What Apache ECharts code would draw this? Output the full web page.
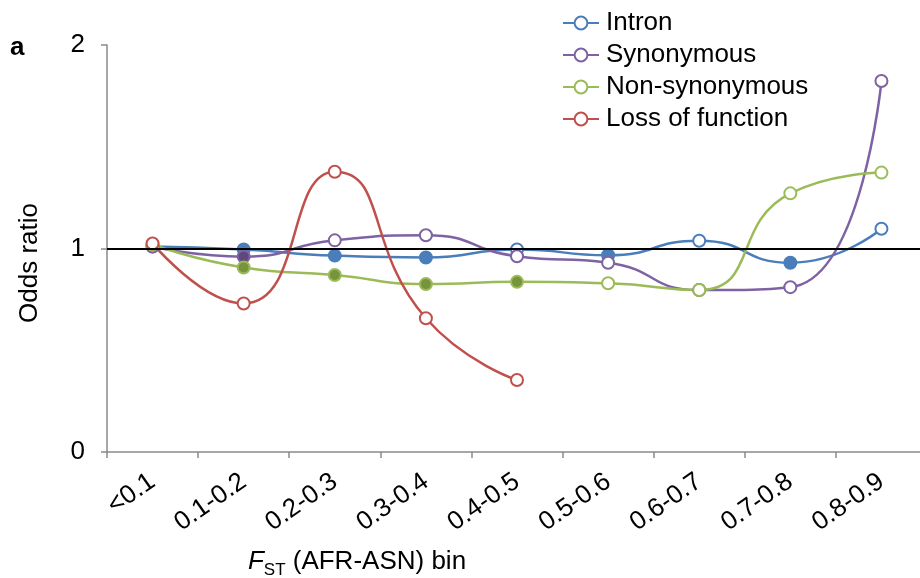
<!DOCTYPE html>
<html><head><meta charset="utf-8">
<script src="https://cdn.jsdelivr.net/npm/echarts@6/dist/echarts.min.js"></script>
<style>html,body{margin:0;padding:0;background:#fff}#c{width:920px;height:578px}</style>
</head><body><div id="c"></div>
<script>
const categories = ['<0.1','0.1-0.2','0.2-0.3','0.3-0.4','0.4-0.5','0.5-0.6','0.6-0.7','0.7-0.8','0.8-0.9'];
const yTicks = [0, 1, 2];
const intron = [1.01, 0.995, 0.965, 0.956, 0.995, 0.967, 1.038, 0.93, 1.097];
const intronFilled = [0,1,1,1,0,1,0,1,0];
const synonymous = [1.01, 0.96, 1.04, 1.065, 0.962, 0.93, 0.796, 0.81, 1.823];
const synonymousFilled = [0,1,0,0,0,0,0,0,0];
const nonsyn = [1.02, 0.907, 0.87, 0.825, 0.836, 0.829, 0.796, 1.271, 1.373];
const nonsynFilled = [1,1,1,1,1,0,0,0,0];
const lof = [1.025, 0.73, 1.377, 0.657, 0.354];
const lofFilled = [0,0,0,0,0];

const FONT = 'Liberation Sans, Arial, sans-serif';
const FS = 26;
function mk(name, vals, filled, line, dark, extra) {
  return Object.assign({
    name, type: 'line', smooth: 0.55,
    symbol: 'circle', symbolSize: 12,
    lineStyle: { color: line, width: 2.5 },
    itemStyle: { color: '#fff', borderColor: line, borderWidth: 2 },
    emphasis: { disabled: true },
    data: vals.map((v, i) => filled[i]
      ? { value: v, itemStyle: { color: dark, borderColor: line, borderWidth: 2 } }
      : v)
  }, extra || {});
}
const chart = echarts.init(document.getElementById('c'), null, { renderer: 'canvas' });
chart.setOption({
  animation: false,
  backgroundColor: '#fff',
  textStyle: { fontFamily: FONT },
  title: { text: 'a', left: 5, top: 30, textStyle: { fontFamily: FONT, fontSize: FS, fontWeight: 'bold', color: '#000' } },
  legend: {
    orient: 'vertical', left: 562, top: 10, padding: 0, itemWidth: 36, itemHeight: 16, itemGap: 6,
    textStyle: { fontFamily: FONT, fontSize: FS, color: '#000', lineHeight: 26, padding: [0,0,0,2] },
    data: ['Intron', 'Synonymous', 'Non-synonymous', 'Loss of function']
  },
  grid: { left: 107, right: -7, top: 45, bottom: 126, containLabel: false, outerBoundsMode: 'none' },
  xAxis: {
    type: 'category', data: categories, boundaryGap: true,
    axisLine: { lineStyle: { color: '#8a8a8a', width: 1.5 } },
    axisTick: { show: true, length: 6, alignWithLabel: false, lineStyle: { color: '#8a8a8a', width: 1.5 } },
    axisLabel: { interval: 0, rotate: 35, margin: 27, color: '#000', fontSize: FS, fontFamily: FONT },
    name: '{i|F}{sub|ST}{n| (AFR-ASN) bin}',
    nameLocation: 'middle', nameGap: 93,
    nameTextStyle: {
      padding: [0, 320, 0, 0],
      rich: {
        i: { fontStyle: 'italic', fontSize: FS, fontFamily: FONT, color: '#000', verticalAlign: 'bottom', lineHeight: 30 },
        sub: { fontSize: 17, fontFamily: FONT, color: '#000', verticalAlign: 'bottom', lineHeight: 30, padding: [0,0,-4,0] },
        n: { fontSize: FS, fontFamily: FONT, color: '#000', verticalAlign: 'bottom', lineHeight: 30 }
      }
    }
  },
  yAxis: {
    type: 'value', min: yTicks[0], max: yTicks[yTicks.length - 1], interval: 1,
    axisLine: { show: true, lineStyle: { color: '#8a8a8a', width: 1.5 } },
    axisTick: { show: true, length: 6, lineStyle: { color: '#8a8a8a', width: 1.5 } },
    splitLine: { show: false },
    axisLabel: { color: '#000', fontSize: FS, fontFamily: FONT, margin: 22 },
    name: 'Odds ratio', nameLocation: 'middle', nameGap: 64,
    nameTextStyle: { color: '#000', fontSize: FS, fontFamily: FONT, padding: [0, 29, 0, 0] }
  },
  series: [
    mk('Intron', intron, intronFilled, '#4A7EBB', '#4A7EBB', {
      markLine: { silent: true, symbol: 'none', label: { show: false },
        lineStyle: { color: '#000', width: 2, type: 'solid' }, data: [{ yAxis: 1 }] }
    }),
    mk('Synonymous', synonymous, synonymousFilled, '#7F62A4', '#5F497A'),
    mk('Non-synonymous', nonsyn, nonsynFilled, '#9BBB59', '#77933C'),
    mk('Loss of function', lof, lofFilled, '#C0504D', '#C0504D')
  ]
});
</script></body></html>
